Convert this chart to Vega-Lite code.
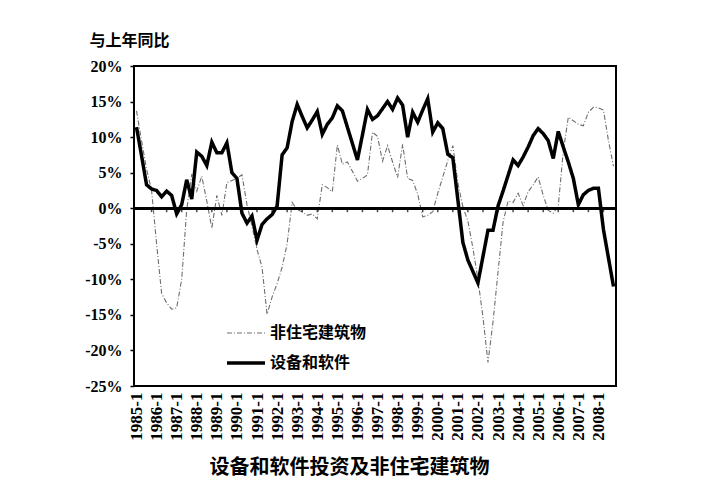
{
  "$schema": "https://vega.github.io/schema/vega-lite/v6.json",
  "width": 482,
  "height": 320,
  "autosize": "none",
  "padding": {"left": 134, "top": 66, "right": 108, "bottom": 111},
  "background": "white",
  "config": {
    "view": {"stroke": "black", "strokeWidth": 2},
    "axis": {"grid": false, "labelOverlap": false},
    "axisQuantitative": {"labelOverlap": false},
    "axisY": {"labelOverlap": false, "labelBound": false}
  },
  "data": {
    "values": [
      {"p": "1985-1", "s": "非住宅建筑物", "v": 13.7}, {"p": "1985-2", "s": "非住宅建筑物", "v": 9.5}, {"p": "1985-3", "s": "非住宅建筑物", "v": 5.5}, {"p": "1985-4", "s": "非住宅建筑物", "v": 2.5},
      {"p": "1986-1", "s": "非住宅建筑物", "v": -5.0}, {"p": "1986-2", "s": "非住宅建筑物", "v": -12.0}, {"p": "1986-3", "s": "非住宅建筑物", "v": -13.3}, {"p": "1986-4", "s": "非住宅建筑物", "v": -14.2},
      {"p": "1987-1", "s": "非住宅建筑物", "v": -14.0}, {"p": "1987-2", "s": "非住宅建筑物", "v": -10.0}, {"p": "1987-3", "s": "非住宅建筑物", "v": -0.2}, {"p": "1987-4", "s": "非住宅建筑物", "v": 4.8},
      {"p": "1988-1", "s": "非住宅建筑物", "v": 2.4}, {"p": "1988-2", "s": "非住宅建筑物", "v": 4.5}, {"p": "1988-3", "s": "非住宅建筑物", "v": 1.0}, {"p": "1988-4", "s": "非住宅建筑物", "v": -2.8},
      {"p": "1989-1", "s": "非住宅建筑物", "v": 1.8}, {"p": "1989-2", "s": "非住宅建筑物", "v": -1.0}, {"p": "1989-3", "s": "非住宅建筑物", "v": 3.6}, {"p": "1989-4", "s": "非住宅建筑物", "v": 3.9},
      {"p": "1990-1", "s": "非住宅建筑物", "v": 4.2}, {"p": "1990-2", "s": "非住宅建筑物", "v": 4.7}, {"p": "1990-3", "s": "非住宅建筑物", "v": 0.5}, {"p": "1990-4", "s": "非住宅建筑物", "v": -2.5},
      {"p": "1991-1", "s": "非住宅建筑物", "v": -5.8}, {"p": "1991-2", "s": "非住宅建筑物", "v": -8.3}, {"p": "1991-3", "s": "非住宅建筑物", "v": -14.9}, {"p": "1991-4", "s": "非住宅建筑物", "v": -12.5},
      {"p": "1992-1", "s": "非住宅建筑物", "v": -10.6}, {"p": "1992-2", "s": "非住宅建筑物", "v": -8.3}, {"p": "1992-3", "s": "非住宅建筑物", "v": -5.0}, {"p": "1992-4", "s": "非住宅建筑物", "v": 0.8},
      {"p": "1993-1", "s": "非住宅建筑物", "v": -0.2}, {"p": "1993-2", "s": "非住宅建筑物", "v": -0.5}, {"p": "1993-3", "s": "非住宅建筑物", "v": -1.0}, {"p": "1993-4", "s": "非住宅建筑物", "v": -0.8},
      {"p": "1994-1", "s": "非住宅建筑物", "v": -1.5}, {"p": "1994-2", "s": "非住宅建筑物", "v": 3.3}, {"p": "1994-3", "s": "非住宅建筑物", "v": 2.9}, {"p": "1994-4", "s": "非住宅建筑物", "v": 2.3},
      {"p": "1995-1", "s": "非住宅建筑物", "v": 8.9}, {"p": "1995-2", "s": "非住宅建筑物", "v": 6.2}, {"p": "1995-3", "s": "非住宅建筑物", "v": 6.5}, {"p": "1995-4", "s": "非住宅建筑物", "v": 5.2},
      {"p": "1996-1", "s": "非住宅建筑物", "v": 3.8}, {"p": "1996-2", "s": "非住宅建筑物", "v": 4.2}, {"p": "1996-3", "s": "非住宅建筑物", "v": 4.7}, {"p": "1996-4", "s": "非住宅建筑物", "v": 10.7},
      {"p": "1997-1", "s": "非住宅建筑物", "v": 10.1}, {"p": "1997-2", "s": "非住宅建筑物", "v": 6.6}, {"p": "1997-3", "s": "非住宅建筑物", "v": 8.8}, {"p": "1997-4", "s": "非住宅建筑物", "v": 6.5},
      {"p": "1998-1", "s": "非住宅建筑物", "v": 4.3}, {"p": "1998-2", "s": "非住宅建筑物", "v": 9.0}, {"p": "1998-3", "s": "非住宅建筑物", "v": 4.2}, {"p": "1998-4", "s": "非住宅建筑物", "v": 3.9},
      {"p": "1999-1", "s": "非住宅建筑物", "v": 2.0}, {"p": "1999-2", "s": "非住宅建筑物", "v": -1.2}, {"p": "1999-3", "s": "非住宅建筑物", "v": -1.0}, {"p": "1999-4", "s": "非住宅建筑物", "v": -0.5},
      {"p": "2000-1", "s": "非住宅建筑物", "v": 2.1}, {"p": "2000-2", "s": "非住宅建筑物", "v": 4.4}, {"p": "2000-3", "s": "非住宅建筑物", "v": 6.7}, {"p": "2000-4", "s": "非住宅建筑物", "v": 8.8},
      {"p": "2001-1", "s": "非住宅建筑物", "v": 3.6}, {"p": "2001-2", "s": "非住宅建筑物", "v": 0.2}, {"p": "2001-3", "s": "非住宅建筑物", "v": -1.8}, {"p": "2001-4", "s": "非住宅建筑物", "v": -5.6},
      {"p": "2002-1", "s": "非住宅建筑物", "v": -10.0}, {"p": "2002-2", "s": "非住宅建筑物", "v": -15.3}, {"p": "2002-3", "s": "非住宅建筑物", "v": -21.7}, {"p": "2002-4", "s": "非住宅建筑物", "v": -16.0},
      {"p": "2003-1", "s": "非住宅建筑物", "v": -9.0}, {"p": "2003-2", "s": "非住宅建筑物", "v": -2.0}, {"p": "2003-3", "s": "非住宅建筑物", "v": 1.0}, {"p": "2003-4", "s": "非住宅建筑物", "v": 0.8},
      {"p": "2004-1", "s": "非住宅建筑物", "v": 2.1}, {"p": "2004-2", "s": "非住宅建筑物", "v": 0.4}, {"p": "2004-3", "s": "非住宅建筑物", "v": 2.3}, {"p": "2004-4", "s": "非住宅建筑物", "v": 3.3},
      {"p": "2005-1", "s": "非住宅建筑物", "v": 4.4}, {"p": "2005-2", "s": "非住宅建筑物", "v": 1.8}, {"p": "2005-3", "s": "非住宅建筑物", "v": -0.3}, {"p": "2005-4", "s": "非住宅建筑物", "v": -0.7},
      {"p": "2006-1", "s": "非住宅建筑物", "v": 0.3}, {"p": "2006-2", "s": "非住宅建筑物", "v": 8.0}, {"p": "2006-3", "s": "非住宅建筑物", "v": 12.8}, {"p": "2006-4", "s": "非住宅建筑物", "v": 12.3},
      {"p": "2007-1", "s": "非住宅建筑物", "v": 11.8}, {"p": "2007-2", "s": "非住宅建筑物", "v": 11.6}, {"p": "2007-3", "s": "非住宅建筑物", "v": 13.5}, {"p": "2007-4", "s": "非住宅建筑物", "v": 14.2},
      {"p": "2008-1", "s": "非住宅建筑物", "v": 14.1}, {"p": "2008-2", "s": "非住宅建筑物", "v": 13.8}, {"p": "2008-3", "s": "非住宅建筑物", "v": 9.5}, {"p": "2008-4", "s": "非住宅建筑物", "v": 5.9},
      {"p": "1985-1", "s": "设备和软件", "v": 11.4}, {"p": "1985-2", "s": "设备和软件", "v": 7.4}, {"p": "1985-3", "s": "设备和软件", "v": 3.3}, {"p": "1985-4", "s": "设备和软件", "v": 2.7},
      {"p": "1986-1", "s": "设备和软件", "v": 2.5}, {"p": "1986-2", "s": "设备和软件", "v": 1.6}, {"p": "1986-3", "s": "设备和软件", "v": 2.4}, {"p": "1986-4", "s": "设备和软件", "v": 1.8},
      {"p": "1987-1", "s": "设备和软件", "v": -0.8}, {"p": "1987-2", "s": "设备和软件", "v": 0.5}, {"p": "1987-3", "s": "设备和软件", "v": 4.0}, {"p": "1987-4", "s": "设备和软件", "v": 1.3},
      {"p": "1988-1", "s": "设备和软件", "v": 7.9}, {"p": "1988-2", "s": "设备和软件", "v": 7.3}, {"p": "1988-3", "s": "设备和软件", "v": 6.0}, {"p": "1988-4", "s": "设备和软件", "v": 9.3},
      {"p": "1989-1", "s": "设备和软件", "v": 7.8}, {"p": "1989-2", "s": "设备和软件", "v": 7.8}, {"p": "1989-3", "s": "设备和软件", "v": 9.2}, {"p": "1989-4", "s": "设备和软件", "v": 5.0},
      {"p": "1990-1", "s": "设备和软件", "v": 4.2}, {"p": "1990-2", "s": "设备和软件", "v": -0.7}, {"p": "1990-3", "s": "设备和软件", "v": -2.1}, {"p": "1990-4", "s": "设备和软件", "v": -1.1},
      {"p": "1991-1", "s": "设备和软件", "v": -4.5}, {"p": "1991-2", "s": "设备和软件", "v": -2.3}, {"p": "1991-3", "s": "设备和软件", "v": -1.5}, {"p": "1991-4", "s": "设备和软件", "v": -0.9},
      {"p": "1992-1", "s": "设备和软件", "v": 0.3}, {"p": "1992-2", "s": "设备和软件", "v": 7.5}, {"p": "1992-3", "s": "设备和软件", "v": 8.5}, {"p": "1992-4", "s": "设备和软件", "v": 12.2},
      {"p": "1993-1", "s": "设备和软件", "v": 14.6}, {"p": "1993-2", "s": "设备和软件", "v": 12.9}, {"p": "1993-3", "s": "设备和软件", "v": 11.3}, {"p": "1993-4", "s": "设备和软件", "v": 12.4},
      {"p": "1994-1", "s": "设备和软件", "v": 13.6}, {"p": "1994-2", "s": "设备和软件", "v": 10.4}, {"p": "1994-3", "s": "设备和软件", "v": 11.8}, {"p": "1994-4", "s": "设备和软件", "v": 12.7},
      {"p": "1995-1", "s": "设备和软件", "v": 14.4}, {"p": "1995-2", "s": "设备和软件", "v": 13.7}, {"p": "1995-3", "s": "设备和软件", "v": 11.4}, {"p": "1995-4", "s": "设备和软件", "v": 9.1},
      {"p": "1996-1", "s": "设备和软件", "v": 6.8}, {"p": "1996-2", "s": "设备和软件", "v": 10.3}, {"p": "1996-3", "s": "设备和软件", "v": 13.9}, {"p": "1996-4", "s": "设备和软件", "v": 12.5},
      {"p": "1997-1", "s": "设备和软件", "v": 13.0}, {"p": "1997-2", "s": "设备和软件", "v": 14.0}, {"p": "1997-3", "s": "设备和软件", "v": 15.0}, {"p": "1997-4", "s": "设备和软件", "v": 13.9},
      {"p": "1998-1", "s": "设备和软件", "v": 15.5}, {"p": "1998-2", "s": "设备和软件", "v": 14.5}, {"p": "1998-3", "s": "设备和软件", "v": 10.0}, {"p": "1998-4", "s": "设备和软件", "v": 13.5},
      {"p": "1999-1", "s": "设备和软件", "v": 12.1}, {"p": "1999-2", "s": "设备和软件", "v": 13.8}, {"p": "1999-3", "s": "设备和软件", "v": 15.4}, {"p": "1999-4", "s": "设备和软件", "v": 10.7},
      {"p": "2000-1", "s": "设备和软件", "v": 12.0}, {"p": "2000-2", "s": "设备和软件", "v": 11.2}, {"p": "2000-3", "s": "设备和软件", "v": 7.6}, {"p": "2000-4", "s": "设备和软件", "v": 7.1},
      {"p": "2001-1", "s": "设备和软件", "v": 1.2}, {"p": "2001-2", "s": "设备和软件", "v": -4.8}, {"p": "2001-3", "s": "设备和软件", "v": -7.3}, {"p": "2001-4", "s": "设备和软件", "v": -8.9},
      {"p": "2002-1", "s": "设备和软件", "v": -10.5}, {"p": "2002-2", "s": "设备和软件", "v": -6.8}, {"p": "2002-3", "s": "设备和软件", "v": -3.1}, {"p": "2002-4", "s": "设备和软件", "v": -3.1},
      {"p": "2003-1", "s": "设备和软件", "v": 0.3}, {"p": "2003-2", "s": "设备和软件", "v": 2.4}, {"p": "2003-3", "s": "设备和软件", "v": 4.6}, {"p": "2003-4", "s": "设备和软件", "v": 6.8},
      {"p": "2004-1", "s": "设备和软件", "v": 6.0}, {"p": "2004-2", "s": "设备和软件", "v": 7.2}, {"p": "2004-3", "s": "设备和软件", "v": 8.6}, {"p": "2004-4", "s": "设备和软件", "v": 10.2},
      {"p": "2005-1", "s": "设备和软件", "v": 11.2}, {"p": "2005-2", "s": "设备和软件", "v": 10.5}, {"p": "2005-3", "s": "设备和软件", "v": 9.5}, {"p": "2005-4", "s": "设备和软件", "v": 7.0},
      {"p": "2006-1", "s": "设备和软件", "v": 10.8}, {"p": "2006-2", "s": "设备和软件", "v": 8.6}, {"p": "2006-3", "s": "设备和软件", "v": 6.5}, {"p": "2006-4", "s": "设备和软件", "v": 4.2},
      {"p": "2007-1", "s": "设备和软件", "v": 0.5}, {"p": "2007-2", "s": "设备和软件", "v": 1.9}, {"p": "2007-3", "s": "设备和软件", "v": 2.5}, {"p": "2007-4", "s": "设备和软件", "v": 2.8},
      {"p": "2008-1", "s": "设备和软件", "v": 2.8}, {"p": "2008-2", "s": "设备和软件", "v": -3.0}, {"p": "2008-3", "s": "设备和软件", "v": -7.0}, {"p": "2008-4", "s": "设备和软件", "v": -11.0}
    ]
  },
  "encoding": {
    "y": {
      "field": "v",
      "type": "quantitative",
      "scale": {"domain": [-25, 20], "nice": false, "zero": false},
      "axis": {
        "title": "与上年同比",
        "titleAngle": 0,
        "titleAlign": "left",
        "titleBaseline": "middle",
        "titleX": -45,
        "titleY": -26,
        "titleFont": "Noto Sans CJK SC",
        "titleFontSize": 16,
        "titleFontWeight": "bold",
        "titleColor": "black",
        "values": [-25, -20, -15, -10, -5, 0, 5, 10, 15, 20],
        "labelExpr": "datum.value + '%'",
        "labelFont": "Liberation Serif",
        "labelFontWeight": "bold",
        "labelFontSize": 16,
        "labelColor": "black",
        "labelPadding": 8,
        "labelOverlap": false,
        "labelSeparation": -20,
        "domain": false,
        "tickSize": 4,
        "tickWidth": 1.5,
        "tickColor": "black"
      }
    }
  },
  "layer": [
    {
      "transform": [{"filter": {"field": "s", "equal": "非住宅建筑物"}}],
      "mark": {"type": "line"},
      "encoding": {
        "x": {"field": "p", "type": "ordinal"},
        "color": {"field": "s", "type": "ordinal"},
        "strokeDash": {"field": "s", "type": "ordinal"},
        "strokeWidth": {"field": "s", "type": "ordinal"}
      }
    },
    {
      "transform": [{"filter": {"field": "s", "equal": "设备和软件"}}],
      "mark": {"type": "line", "strokeJoin": "miter"},
      "encoding": {
        "x": {
          "field": "p",
          "type": "ordinal",
          "scale": {"type": "point", "padding": 0.5},
          "axis": {
            "orient": "bottom",
            "values": ["1985-1", "1986-1", "1987-1", "1988-1", "1989-1", "1990-1", "1991-1", "1992-1", "1993-1", "1994-1", "1995-1", "1996-1", "1997-1", "1998-1", "1999-1", "2000-1", "2001-1", "2002-1", "2003-1", "2004-1", "2005-1", "2006-1", "2007-1", "2008-1"],
            "labelAngle": 270,
            "labelFont": "Liberation Serif",
            "labelFontWeight": "bold",
            "labelFontSize": 17,
            "labelColor": "black",
            "labelPadding": 6,
            "labelOverlap": false,
            "ticks": false,
            "domain": false,
            "title": "设备和软件投资及非住宅建筑物",
            "titleX": 215,
            "titleY": 81,
            "titleAlign": "center",
            "titleBaseline": "middle",
            "titleFont": "Noto Sans CJK SC",
            "titleFontSize": 20,
            "titleFontWeight": "bold",
            "titleColor": "black"
          }
        },
        "color": {
          "field": "s",
          "type": "ordinal",
          "scale": {"domain": ["非住宅建筑物", "设备和软件"], "range": ["#6e6e6e", "#000000"]},
          "legend": {
            "orient": "none",
            "legendX": 91,
            "legendY": 259,
            "title": null,
            "padding": 0,
            "symbolType": "stroke",
            "symbolSize": 1444,
            "clipHeight": 16,
            "rowPadding": 14,
            "labelOffset": 3,
            "labelFont": "Noto Sans CJK SC",
            "labelFontSize": 16,
            "labelFontWeight": "bold",
            "labelColor": "black"
          }
        },
        "strokeDash": {
          "field": "s",
          "type": "ordinal",
          "scale": {"domain": ["非住宅建筑物", "设备和软件"], "range": [[5, 2, 1, 2], [1, 0]]}
        },
        "strokeWidth": {
          "field": "s",
          "type": "ordinal",
          "scale": {"domain": ["非住宅建筑物", "设备和软件"], "range": [1.1, 3.5]}
        }
      }
    },
    {
      "mark": {"type": "rule", "color": "black", "strokeWidth": 2},
      "encoding": {"y": {"datum": 0, "type": "quantitative"}}
    },
    {
      "transform": [
        {"filter": {"and": [
          {"field": "s", "equal": "设备和软件"},
          {"field": "p", "oneOf": ["1985-4", "1986-3", "1987-2", "1988-1", "1988-4", "1989-3", "1990-2", "1991-1", "1991-4", "1992-3", "1993-2", "1994-1", "1994-4", "1995-3", "1996-2", "1997-1", "1997-4", "1998-3", "1999-2", "2000-1", "2000-4", "2001-3", "2002-2", "2003-1", "2003-4", "2004-3", "2005-2", "2006-1", "2006-4", "2007-3", "2008-2"]}
        ]}}
      ],
      "mark": {"type": "tick", "orient": "vertical", "size": 4, "thickness": 1.5, "color": "black", "yOffset": 2},
      "encoding": {
        "x": {"field": "p", "type": "ordinal"},
        "y": {"datum": 0, "type": "quantitative"}
      }
    }
  ]
}
